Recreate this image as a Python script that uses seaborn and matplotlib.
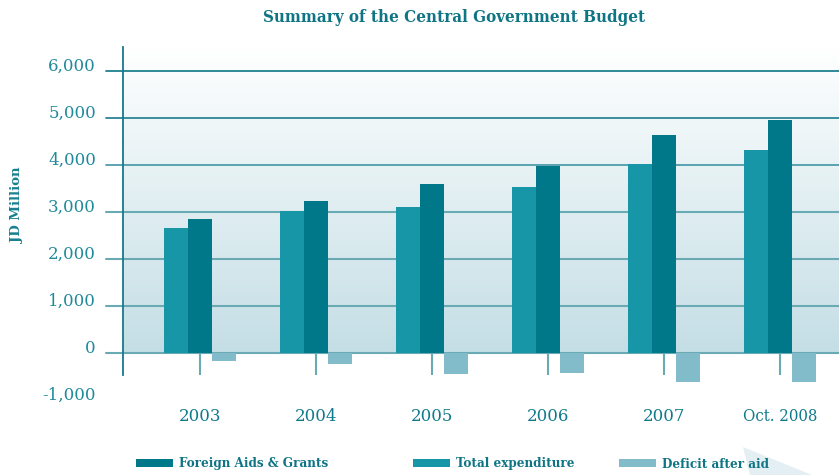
import numpy as np
import pandas as pd
import matplotlib
matplotlib.use("Agg")
import matplotlib.pyplot as plt
from matplotlib.colors import LinearSegmentedColormap
from matplotlib.patches import Patch, Polygon
import seaborn as sns

# ---- data (JD million) ----
years = ["2003", "2004", "2005", "2006", "2007", "Oct. 2008"]
total_expenditure = [2660, 3020, 3105, 3530, 4020, 4320]
foreign_aids_grants = [2850, 3235, 3595, 3980, 4640, 4955]
deficit_after_aid = [-185, -235, -460, -440, -630, -630]

series_order = ["Total expenditure", "Foreign Aids & Grants", "Deficit after aid"]
legend_order = ["Foreign Aids & Grants", "Total expenditure", "Deficit after aid"]
series_colors = {
    "Total expenditure": "#1696a6",
    "Foreign Aids & Grants": "#00788a",
    "Deficit after aid": "#82bbc9",
}
y_ticks = [-1000, 0, 1000, 2000, 3000, 4000, 5000, 6000]
y_tick_labels = ["-1,000", "0", "1,000", "2,000", "3,000", "4,000", "5,000", "6,000"]
grid_colors = {0: "#6aaab5", 1000: "#6aaab5", 2000: "#6aaab5", 3000: "#6aaab5",
               4000: "#4f9cab", 5000: "#2a8595", 6000: "#1f8090"}

df = pd.DataFrame({
    "year": years * 3,
    "series": (["Total expenditure"] * len(years) + ["Foreign Aids & Grants"] * len(years)
               + ["Deficit after aid"] * len(years)),
    "value": total_expenditure + foreign_aids_grants + deficit_after_aid,
})

sns.set_theme(style="white")
plt.rcParams["font.family"] = ["DejaVu Serif"]

W, H = 839, 475
fig = plt.figure(figsize=(W / 100, H / 100), dpi=100)
ax = fig.add_axes([123 / W, 1 - 402 / H, (839 - 123) / W, (402 - 47) / H])

sns.barplot(data=df, x="year", y="value", hue="series", order=years,
            hue_order=series_order, palette=series_colors, width=0.62, gap=0,
            saturation=1, errorbar=None, linewidth=0, legend=False, ax=ax)
for p in ax.patches:
    p.set_zorder(3)

x0, x1 = (123 - 200) / 116, (839 - 200) / 116
y_top, y_spine_bottom, y_bottom = 6511, -468, -1050

# gradient backdrop above the zero line
cmap = LinearSegmentedColormap.from_list("bg", ["#c4dee5", "#ffffff"])
grad = np.linspace(0, 1, 256).reshape(-1, 1)
ax.imshow(grad, extent=(x0, x1, 0, y_top), origin="lower", aspect="auto",
          cmap=cmap, zorder=0)

ax.set_xlim(x0, x1)
ax.set_ylim(y_bottom, y_top)

# horizontal gridlines, extended a little to the left of the axis
ext = -17 / (839 - 123)
for v in y_ticks[1:]:
    ax.axhline(v, xmin=ext, xmax=1, color=grid_colors[v], lw=1.5 if v < 4000 else 1.3,
               zorder=1, clip_on=False)

ax.set_yticks(y_ticks)
ax.set_yticklabels(y_tick_labels)
ax.tick_params(axis="y", length=0, pad=19.5, labelsize=12, labelcolor="#1f8a9a")
for lab in ax.get_yticklabels():
    lab.set_verticalalignment("baseline")

# category ticks hanging below the zero line
for s in ["top", "right", "bottom"]:
    ax.spines[s].set_visible(False)
ax.spines["bottom"].set_position(("data", 0))
ax.tick_params(axis="x", direction="out", length=15.8, width=1.5, color="#6aaab5",
               pad=24, labelsize=12, labelcolor="#0f7a8a", bottom=True)
ax.get_xticklabels()[-1].set_fontstretch("condensed")
ax.set_xlabel("")
ax.set_ylabel("")

ax.spines["left"].set_visible(True)
ax.spines["left"].set_bounds(y_spine_bottom, y_top)
ax.spines["left"].set_color("#17798a")
ax.spines["left"].set_linewidth(1.3)
ax.spines["left"].set_zorder(4)
ax.grid(False)

fig.text(0.5 * (264 + 645) / W, 1 - 18 / H, "Summary of the Central Government Budget",
         ha="center", va="center", fontsize=12.2, fontweight="bold", fontstretch="condensed",
         color="#0f7585")
fig.text(18 / W, 1 - 205 / H, "JD Million", rotation=90, ha="center", va="center",
         fontsize=9.5, fontweight="bold", color="#17808f")

# decorative light wedge in the lower right corner
wedge = Polygon([(743 / W, 1 - 447 / H), (812 / W, 0), (750 / W, 0)], closed=True,
                transform=fig.transFigure, facecolor="#e3eff3", edgecolor="none", zorder=0)
fig.add_artist(wedge)

# legend entries placed individually along the bottom
swatch_x = {"Foreign Aids & Grants": 136, "Total expenditure": 413, "Deficit after aid": 619}
for name in legend_order:
    leg = fig.legend(handles=[Patch(facecolor=series_colors[name], edgecolor="none", label=name)],
                     loc="center left", bbox_to_anchor=(swatch_x[name] / W, 1 - 464 / H),
                     frameon=False, prop={"size": 9.6, "weight": "bold", "stretch": "condensed"},
                     handlelength=2.75, handleheight=0.6, handletextpad=0.5,
                     borderpad=0, borderaxespad=0)
    for t in leg.get_texts():
        t.set_color("#0f7585")

fig.savefig("out.png", dpi=100)
